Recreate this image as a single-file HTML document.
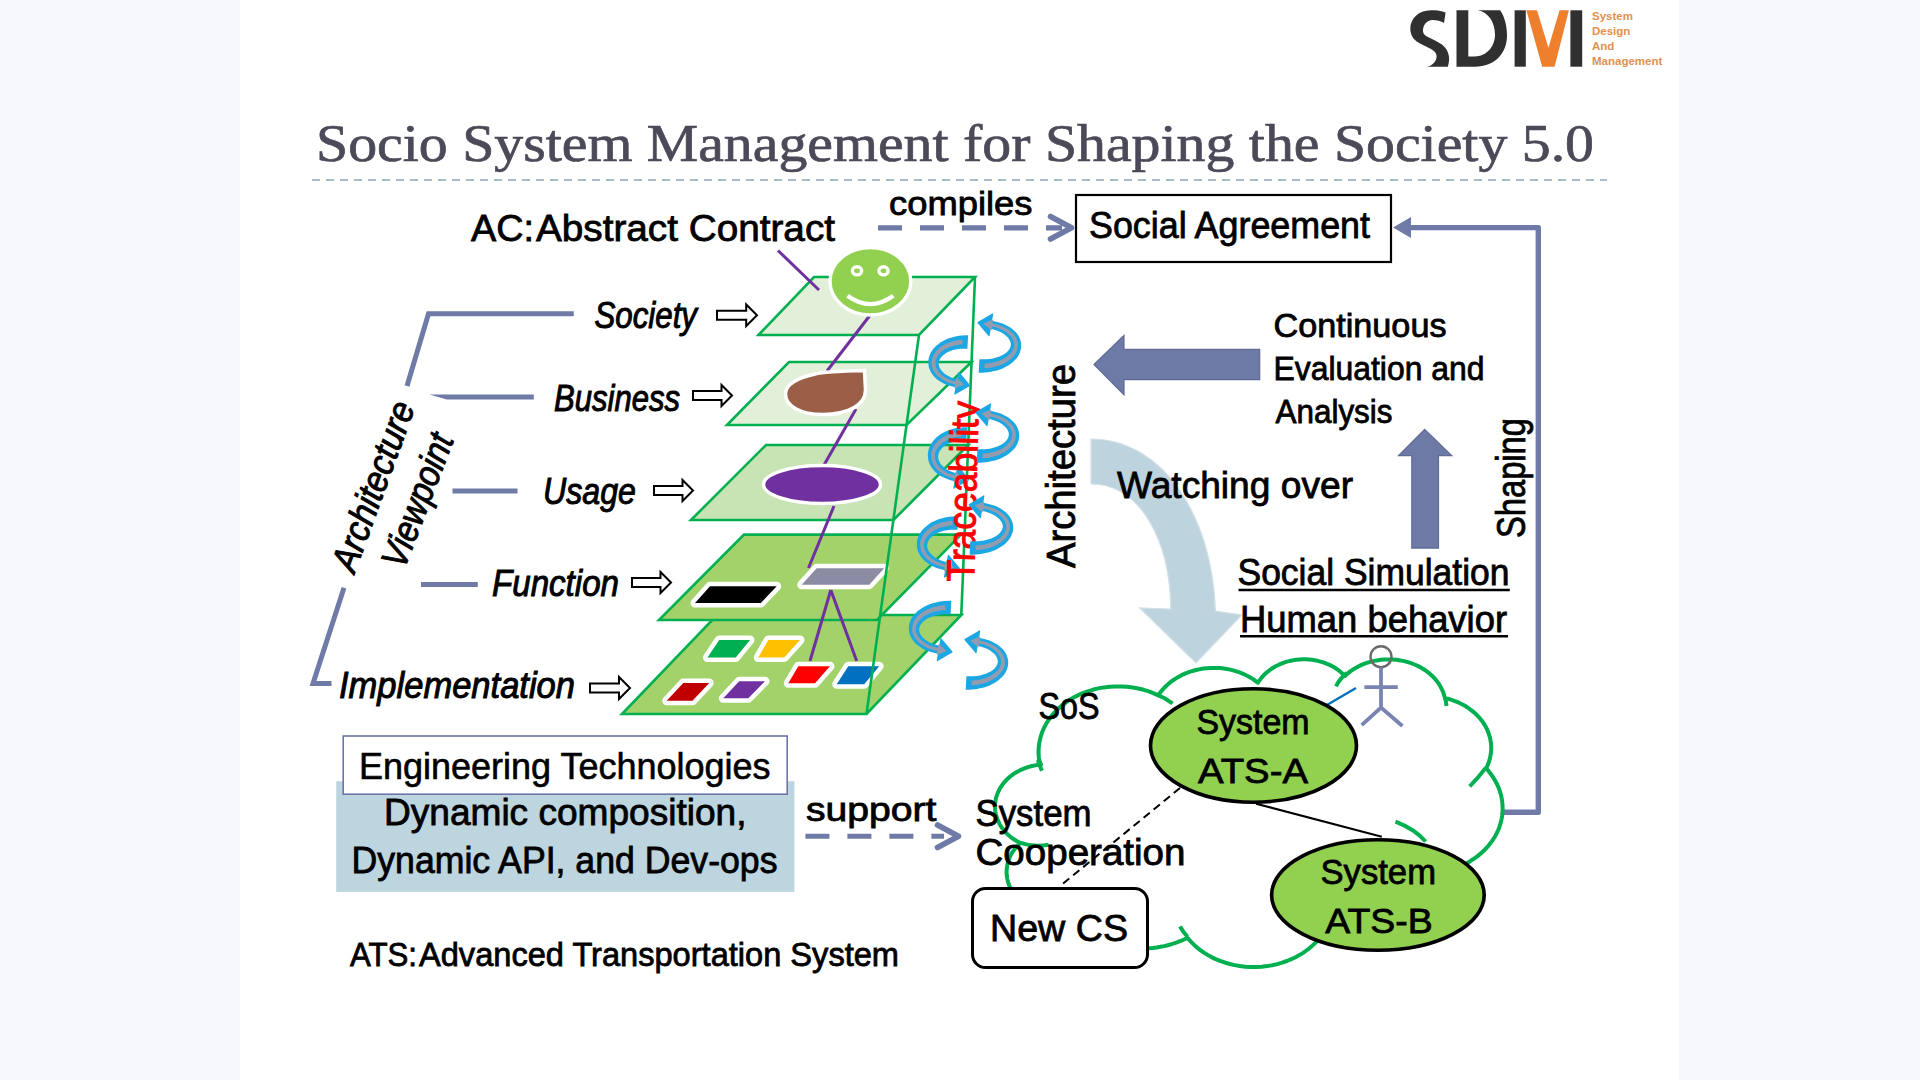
<!DOCTYPE html><html><head><meta charset="utf-8"><style>html,body{margin:0;padding:0;width:1920px;height:1080px;overflow:hidden;background:#f6f8fb}svg{position:absolute;left:0;top:0;display:block}text{font-family:"Liberation Sans",sans-serif}</style></head><body>
<svg width="1920" height="1080" viewBox="0 0 1920 1080">
<rect x="0" y="0" width="1920" height="1080" fill="#f6f8fb"/>
<rect x="240" y="0" width="1439" height="1080" fill="#ffffff"/>
<g id="logo">
<path d="M1445.6,12.4 C1440,10.5 1435,10.3 1431,10.3 C1418,10.5 1410.3,19 1410.3,28.6 C1410.3,36 1414,41 1422,44.5 L1430,48.5 C1435,51 1437,54 1436.6,57 C1436,62 1432,65.5 1427.3,66.7 L1447.8,66.7 C1449,63 1449.3,59 1449,56.5 C1448,50 1444.7,45.3 1436,41 L1428,37 C1424,35 1423,33 1423,30.5 C1423,25 1427,19.9 1432.3,19.9 C1437,19.9 1441,21 1444,23 Z" fill="#303030"/>
<path d="M1456.5,10.3 L1468.3,10.3 L1468.3,56.5 L1475,56.5 C1486,56.5 1495,47 1495,34.8 C1495,22 1488,12 1477.9,10.3 L1500,10.3 C1504.5,16 1507,26 1507,35.5 C1507,53 1495,66.7 1475,66.7 L1456.5,66.7 Z" fill="#303030"/>
<rect x="1514.6" y="10.3" width="11.2" height="56.4" fill="#303030"/>
<rect x="1570.4" y="10.3" width="11.8" height="56.4" fill="#303030"/>
<polygon points="1526.4,10.3 1537,10.3 1548.4,47.8 1559.6,10.3 1568.9,10.3 1554.6,66.7 1542.2,66.7" fill="#ee7f2d"/>
<text x="1592" y="20" font-size="11.5" fill="#e0924f" font-weight="bold" >System</text>
<text x="1592" y="35" font-size="11.5" fill="#e0924f" font-weight="bold" >Design</text>
<text x="1592" y="50" font-size="11.5" fill="#e0924f" font-weight="bold" >And</text>
<text x="1592" y="65" font-size="11.5" fill="#e0924f" font-weight="bold" >Management</text>
</g>
<text x="316" y="161" font-size="52.5" fill="#4a4a58" stroke="#4a4a58" stroke-width="0.7" style='font-family:"Liberation Serif", serif' textLength="1278" lengthAdjust="spacingAndGlyphs" >Socio System Management for Shaping the Society 5.0</text>
<line x1="312" y1="180" x2="1607" y2="180" stroke="#a9bdc9" stroke-width="2" stroke-dasharray="8,6"/>
<g id="stack">
<polygon points="717.0,615.0 961.3,615.0 866.5,714.0 622.0,714.0" fill="#a3d26b" stroke="#00b050" stroke-width="2.6" stroke-linejoin="miter"/>
<polygon points="744.0,534.6 961.0,534.6 877.0,620.0 659.0,620.0" fill="#a3d26b" stroke="#00b050" stroke-width="2.6" stroke-linejoin="miter"/>
<polygon points="766.0,445.0 968.2,445.0 893.4,520.0 691.0,520.0" fill="#c9e4b4" stroke="#00b050" stroke-width="2.6" stroke-linejoin="miter"/>
<polygon points="789.0,362.0 971.5,362.0 906.5,425.0 727.0,425.0" fill="#e2f0d9" stroke="#00b050" stroke-width="2.6" stroke-linejoin="miter"/>
<polygon points="814.0,277.0 975.0,277.0 919.0,335.0 758.5,335.0" fill="#e2f0d9" stroke="#00b050" stroke-width="2.6" stroke-linejoin="miter"/>
</g>
<g id="shapes">
<line x1="778" y1="250.5" x2="819" y2="290" stroke="#7030a0" stroke-width="3" />
<line x1="871" y1="314" x2="827" y2="371" stroke="#7030a0" stroke-width="3" />
<line x1="856" y1="409" x2="824" y2="465" stroke="#7030a0" stroke-width="3" />
<line x1="834" y1="506" x2="808.5" y2="568" stroke="#7030a0" stroke-width="3" />
<line x1="830.8" y1="590" x2="810" y2="661" stroke="#7030a0" stroke-width="3" />
<line x1="830.8" y1="590" x2="856.7" y2="661" stroke="#7030a0" stroke-width="3" />
<ellipse cx="870.4" cy="281.3" rx="40.4" ry="33.7" fill="#92d050" stroke="#ffffff" stroke-width="3.4"/>
<ellipse cx="857" cy="270.8" rx="4.6" ry="4.1" fill="#92d050" stroke="#ffffff" stroke-width="3.4"/>
<ellipse cx="883.5" cy="270.8" rx="4.6" ry="4.1" fill="#92d050" stroke="#ffffff" stroke-width="3.4"/>
<path d="M847.5,295.8 Q870.4,312.5 893.3,295.8" fill="none" stroke="#ffffff" stroke-width="4.3" stroke-linecap="butt"/>
<path d="M864.5,370.5 C845,371 825,371.5 815,374 C797,378 785.5,385 785.5,394 C785.5,406 800,414.5 823,414.5 C848,414.5 865.5,405 865.5,390 Z" fill="#9b5f47" stroke="#ffffff" stroke-width="3.5"/>
<ellipse cx="822" cy="484.5" rx="58.5" ry="19" fill="#7030a0" stroke="#ffffff" stroke-width="3.5"/>
<polygon points="710.0,586.3 776.7,586.3 760.8,603.0 695.0,603.0" fill="#000000" stroke="#ffffff" stroke-width="9.0" stroke-linejoin="round" paint-order="stroke"/>
<polygon points="816.7,568.3 884.2,568.3 869.2,584.7 801.7,584.7" fill="#8b8ba3" stroke="#ffffff" stroke-width="9.0" stroke-linejoin="round" paint-order="stroke"/>
<polygon points="719.2,640.0 750.0,640.0 735.8,657.5 707.5,657.5" fill="#00b050" stroke="#ffffff" stroke-width="9.0" stroke-linejoin="round" paint-order="stroke"/>
<polygon points="768.3,640.0 800.0,640.0 784.2,657.5 758.3,657.5" fill="#ffc000" stroke="#ffffff" stroke-width="9.0" stroke-linejoin="round" paint-order="stroke"/>
<polygon points="683.3,683.0 709.2,683.0 692.5,700.8 666.7,700.8" fill="#c00000" stroke="#ffffff" stroke-width="9.0" stroke-linejoin="round" paint-order="stroke"/>
<polygon points="739.2,681.3 765.0,681.3 748.3,698.3 723.3,698.3" fill="#7030a0" stroke="#ffffff" stroke-width="9.0" stroke-linejoin="round" paint-order="stroke"/>
<polygon points="798.3,666.2 830.0,666.2 815.0,683.3 788.3,683.3" fill="#ff0000" stroke="#ffffff" stroke-width="9.0" stroke-linejoin="round" paint-order="stroke"/>
<polygon points="848.3,666.2 879.2,666.2 864.2,684.2 836.7,684.2" fill="#0070c0" stroke="#ffffff" stroke-width="9.0" stroke-linejoin="round" paint-order="stroke"/>
<line x1="975" y1="277" x2="961.3" y2="615" stroke="#00b050" stroke-width="2.6" />
<line x1="918.9915" y1="335" x2="866.5" y2="714" stroke="#00b050" stroke-width="2.6" />
</g>
<g id="trace">
<polygon points="968.1,335.3 965.2,335.3 962.2,335.5 959.3,335.8 956.4,336.3 953.6,336.9 950.8,337.7 948.1,338.6 945.5,339.7 943.1,340.9 940.7,342.3 938.6,343.9 936.5,345.5 934.7,347.3 933.0,349.2 931.6,351.3 930.4,353.4 929.5,355.7 928.8,358.0 928.4,360.3 928.3,362.7 928.5,365.1 928.9,367.4 929.7,369.6 930.7,371.8 931.9,373.8 933.4,375.7 935.0,377.5 936.9,379.2 938.9,380.7 941.0,382.0 943.3,383.3 945.7,384.4 948.2,385.3 950.8,386.1 953.4,386.7 956.1,387.2 957.6,379.3 955.3,378.8 953.2,378.1 951.1,377.4 949.2,376.5 947.4,375.5 945.8,374.5 944.3,373.4 943.0,372.2 941.8,371.0 940.9,369.8 940.1,368.6 939.5,367.4 939.1,366.2 938.8,365.1 938.7,364.0 938.7,362.9 938.9,361.8 939.2,360.7 939.6,359.7 940.2,358.6 940.9,357.5 941.8,356.5 942.8,355.4 944.1,354.4 945.4,353.5 946.9,352.6 948.6,351.7 950.4,351.0 952.3,350.3 954.3,349.8 956.3,349.3 958.5,349.0 960.7,348.8 962.9,348.7 965.1,348.7 967.4,348.8" fill="#1ba7e4" stroke="none" stroke-width="0" />
<polygon points="969.6,385.6 954.9,394.1 958.8,372.5" fill="#1ba7e4" stroke="#1ba7e4" stroke-width="1.2" stroke-linejoin="round"/>
<polygon points="962.4,339.7 959.7,339.9 957.1,340.3 954.4,340.9 951.9,341.5 949.4,342.4 947.1,343.3 944.8,344.4 942.7,345.6 940.7,346.9 938.9,348.4 937.3,349.9 935.8,351.6 934.6,353.3 933.5,355.1 932.7,356.9 932.1,358.9 931.7,360.8 931.6,362.8 931.7,364.7 932.1,366.7 932.7,368.6 933.5,370.4 934.5,372.2 935.8,373.9 937.2,375.4 938.8,377.0 940.6,378.3 942.5,379.6 944.6,380.8 946.8,381.8 949.1,382.8 951.5,383.5 954.0,384.2 956.6,384.7 957.1,381.9 954.7,381.3 952.4,380.7 950.2,379.9 948.1,379.0 946.1,378.0 944.2,376.9 942.5,375.7 941.0,374.5 939.7,373.1 938.5,371.7 937.5,370.3 936.7,368.8 936.1,367.3 935.7,365.8 935.4,364.3 935.4,362.8 935.5,361.3 935.8,359.8 936.4,358.4 937.1,356.9 937.9,355.5 939.0,354.2 940.2,352.8 941.6,351.6 943.2,350.4 944.9,349.3 946.8,348.3 948.8,347.4 950.9,346.6 953.1,345.9 955.4,345.3 957.8,344.9 960.2,344.6 962.7,344.4" fill="#939cae" stroke="none" stroke-width="0" />
<polygon points="964.2,384.6 954.4,388.4 956.3,377.6" fill="#939cae" stroke="none" stroke-width="0" />
<polygon points="967.1,427.3 964.2,427.3 961.2,427.5 958.3,427.8 955.4,428.3 952.6,429.0 949.9,429.8 947.2,430.8 944.7,431.9 942.2,433.2 939.9,434.7 937.8,436.3 935.8,438.0 934.0,439.9 932.4,441.9 931.0,444.0 929.8,446.2 928.9,448.5 928.3,450.9 927.9,453.3 927.8,455.7 928.0,458.1 928.4,460.5 929.1,462.8 930.1,465.0 931.3,467.1 932.7,469.1 934.4,471.0 936.2,472.7 938.1,474.3 940.2,475.7 942.5,477.0 944.9,478.1 947.3,479.1 949.9,480.0 952.5,480.7 955.2,481.2 956.7,473.3 954.5,472.8 952.4,472.1 950.4,471.3 948.6,470.4 946.8,469.4 945.2,468.3 943.8,467.1 942.5,465.9 941.3,464.7 940.4,463.4 939.6,462.1 939.0,460.8 938.6,459.6 938.3,458.3 938.2,457.1 938.2,455.9 938.4,454.7 938.7,453.5 939.1,452.3 939.7,451.1 940.5,450.0 941.3,448.9 942.4,447.8 943.6,446.7 944.9,445.7 946.4,444.7 948.0,443.9 949.8,443.1 951.6,442.4 953.6,441.8 955.6,441.3 957.7,441.0 959.8,440.8 962.0,440.7 964.1,440.7 966.3,440.8" fill="#1ba7e4" stroke="none" stroke-width="0" />
<polygon points="968.7,479.7 953.9,488.1 958.0,466.4" fill="#1ba7e4" stroke="#1ba7e4" stroke-width="1.2" stroke-linejoin="round"/>
<polygon points="961.5,431.7 958.8,431.9 956.2,432.4 953.6,432.9 951.1,433.6 948.6,434.5 946.3,435.5 944.1,436.6 942.0,437.9 940.1,439.3 938.3,440.8 936.7,442.4 935.2,444.1 934.0,445.9 933.0,447.8 932.2,449.7 931.6,451.7 931.2,453.7 931.1,455.8 931.2,457.8 931.6,459.8 932.2,461.8 933.0,463.7 934.0,465.5 935.2,467.3 936.6,468.9 938.2,470.5 939.9,472.0 941.8,473.3 943.9,474.6 946.0,475.7 948.3,476.6 950.7,477.5 953.2,478.1 955.7,478.7 956.2,475.8 953.9,475.3 951.6,474.6 949.5,473.8 947.4,472.9 945.4,471.8 943.6,470.7 942.0,469.4 940.4,468.1 939.1,466.7 937.9,465.2 937.0,463.7 936.2,462.2 935.6,460.6 935.2,459.0 934.9,457.4 934.9,455.8 935.0,454.2 935.3,452.6 935.9,451.1 936.5,449.6 937.4,448.1 938.5,446.6 939.7,445.2 941.1,443.9 942.6,442.7 944.3,441.5 946.2,440.5 948.1,439.5 950.2,438.7 952.4,438.0 954.6,437.4 957.0,436.9 959.3,436.6 961.7,436.4" fill="#939cae" stroke="none" stroke-width="0" />
<polygon points="963.3,478.7 953.5,482.4 955.5,471.6" fill="#939cae" stroke="none" stroke-width="0" />
<polygon points="958.3,516.3 955.2,516.3 952.1,516.5 949.0,516.8 946.0,517.3 943.1,517.9 940.2,518.8 937.4,519.7 934.7,520.9 932.1,522.1 929.7,523.6 927.5,525.2 925.4,526.9 923.4,528.8 921.7,530.7 920.2,532.9 919.0,535.1 918.0,537.4 917.3,539.8 916.9,542.2 916.8,544.7 917.0,547.2 917.5,549.6 918.2,551.9 919.3,554.1 920.6,556.2 922.1,558.2 923.8,560.1 925.7,561.8 927.8,563.3 930.0,564.8 932.3,566.1 934.8,567.2 937.4,568.2 940.1,569.0 942.9,569.7 945.8,570.2 947.2,562.3 944.8,561.7 942.5,561.1 940.4,560.2 938.4,559.3 936.5,558.3 934.7,557.2 933.2,556.1 931.8,554.8 930.6,553.6 929.5,552.3 928.7,551.0 928.1,549.7 927.6,548.5 927.3,547.2 927.2,546.0 927.2,544.9 927.4,543.7 927.7,542.6 928.2,541.4 928.8,540.3 929.5,539.1 930.5,538.0 931.6,536.9 932.9,535.8 934.3,534.8 935.9,533.8 937.7,532.9 939.6,532.1 941.6,531.4 943.7,530.8 945.9,530.4 948.1,530.0 950.4,529.8 952.8,529.7 955.1,529.7 957.5,529.8" fill="#1ba7e4" stroke="none" stroke-width="0" />
<polygon points="959.3,568.5 944.5,577.1 948.4,555.4" fill="#1ba7e4" stroke="#1ba7e4" stroke-width="1.2" stroke-linejoin="round"/>
<polygon points="952.3,520.7 949.5,520.9 946.7,521.4 944.0,521.9 941.3,522.6 938.7,523.5 936.3,524.5 933.9,525.6 931.7,526.9 929.7,528.2 927.8,529.7 926.0,531.4 924.5,533.1 923.2,534.9 922.1,536.7 921.3,538.7 920.6,540.7 920.3,542.7 920.1,544.8 920.2,546.8 920.6,548.8 921.2,550.8 922.1,552.7 923.2,554.6 924.5,556.3 925.9,558.0 927.6,559.6 929.5,561.0 931.5,562.4 933.7,563.6 936.0,564.7 938.4,565.6 940.9,566.5 943.5,567.1 946.2,567.7 946.7,564.8 944.2,564.3 941.8,563.6 939.4,562.8 937.2,561.8 935.1,560.8 933.2,559.6 931.4,558.4 929.8,557.1 928.4,555.7 927.1,554.2 926.1,552.7 925.3,551.1 924.6,549.6 924.2,548.0 923.9,546.4 923.9,544.8 924.0,543.2 924.4,541.7 924.9,540.1 925.6,538.6 926.6,537.1 927.7,535.7 929.0,534.3 930.5,533.0 932.1,531.7 933.9,530.6 935.9,529.5 938.0,528.5 940.2,527.7 942.6,527.0 945.0,526.4 947.5,525.9 950.0,525.6 952.6,525.4" fill="#939cae" stroke="none" stroke-width="0" />
<polygon points="953.8,567.6 944.0,571.4 945.9,560.6" fill="#939cae" stroke="none" stroke-width="0" />
<polygon points="951.3,600.8 948.2,600.8 945.0,601.0 941.9,601.3 938.8,601.8 935.8,602.4 932.9,603.2 930.0,604.1 927.3,605.2 924.7,606.5 922.2,607.9 919.8,609.4 917.7,611.1 915.7,612.9 914.0,614.9 912.4,617.0 911.1,619.1 910.1,621.4 909.3,623.8 908.9,626.3 908.8,628.7 909.0,631.2 909.5,633.5 910.3,635.8 911.4,638.0 912.7,640.1 914.3,642.1 916.0,643.9 918.0,645.5 920.1,647.1 922.4,648.5 924.8,649.7 927.4,650.8 930.0,651.8 932.8,652.6 935.6,653.2 938.5,653.7 939.9,645.8 937.4,645.3 935.1,644.6 932.8,643.8 930.7,642.9 928.8,641.9 927.0,640.8 925.3,639.7 923.9,638.5 922.6,637.2 921.6,636.0 920.7,634.7 920.1,633.5 919.6,632.3 919.3,631.1 919.2,630.0 919.2,628.9 919.4,627.8 919.7,626.7 920.2,625.6 920.8,624.5 921.6,623.4 922.5,622.3 923.7,621.3 925.0,620.2 926.5,619.2 928.1,618.3 929.9,617.4 931.9,616.6 934.0,615.9 936.2,615.3 938.5,614.9 940.8,614.5 943.2,614.3 945.7,614.2 948.1,614.2 950.6,614.3" fill="#1ba7e4" stroke="none" stroke-width="0" />
<polygon points="952.0,651.9 937.4,660.6 941.0,638.9" fill="#1ba7e4" stroke="#1ba7e4" stroke-width="1.2" stroke-linejoin="round"/>
<polygon points="945.2,605.2 942.3,605.4 939.5,605.8 936.7,606.4 933.9,607.1 931.3,607.9 928.8,608.9 926.3,610.0 924.1,611.2 922.0,612.6 920.0,614.0 918.3,615.6 916.7,617.3 915.3,619.0 914.2,620.9 913.3,622.8 912.7,624.7 912.3,626.7 912.1,628.8 912.2,630.8 912.6,632.8 913.3,634.7 914.2,636.6 915.3,638.4 916.6,640.1 918.1,641.7 919.9,643.3 921.8,644.7 923.8,646.0 926.1,647.2 928.4,648.3 930.9,649.2 933.5,650.0 936.2,650.7 939.0,651.2 939.4,648.3 936.9,647.8 934.3,647.1 931.9,646.3 929.6,645.4 927.5,644.4 925.5,643.3 923.7,642.0 922.0,640.7 920.5,639.4 919.2,637.9 918.2,636.4 917.3,634.9 916.6,633.4 916.2,631.9 915.9,630.4 915.9,628.8 916.0,627.3 916.4,625.8 916.9,624.3 917.7,622.8 918.6,621.4 919.8,620.0 921.1,618.6 922.6,617.3 924.3,616.1 926.2,614.9 928.3,613.9 930.4,613.0 932.7,612.1 935.1,611.4 937.6,610.9 940.2,610.4 942.8,610.1 945.5,609.9" fill="#939cae" stroke="none" stroke-width="0" />
<polygon points="946.6,651.0 936.8,654.9 938.6,644.1" fill="#939cae" stroke="none" stroke-width="0" />
<text x="974" y="582" font-size="39" fill="#ff0000" stroke="#ff0000" stroke-width="1.0" textLength="180.5" lengthAdjust="spacingAndGlyphs" transform="rotate(-88.5 974 582)">Traceability</text>
<polygon points="978.7,372.7 981.8,372.7 985.0,372.5 988.1,372.2 991.1,371.8 994.1,371.1 997.1,370.4 999.9,369.4 1002.7,368.4 1005.3,367.1 1007.8,365.8 1010.1,364.3 1012.3,362.6 1014.2,360.8 1016.0,358.9 1017.6,356.9 1018.9,354.7 1019.9,352.5 1020.7,350.1 1021.1,347.7 1021.2,345.3 1021.0,342.9 1020.5,340.5 1019.7,338.2 1018.6,336.1 1017.3,334.0 1015.7,332.1 1013.9,330.4 1012.0,328.7 1009.9,327.2 1007.6,325.9 1005.2,324.7 1002.6,323.6 999.9,322.7 997.2,321.9 994.4,321.3 991.5,320.8 990.1,328.7 992.6,329.2 994.9,329.9 997.2,330.7 999.3,331.5 1001.3,332.5 1003.1,333.6 1004.7,334.7 1006.2,335.9 1007.4,337.1 1008.5,338.3 1009.3,339.5 1009.9,340.7 1010.4,341.9 1010.7,343.0 1010.8,344.1 1010.8,345.1 1010.6,346.1 1010.3,347.2 1009.9,348.2 1009.3,349.2 1008.5,350.3 1007.5,351.4 1006.4,352.4 1005.1,353.4 1003.6,354.4 1001.9,355.3 1000.1,356.2 998.1,357.0 996.0,357.6 993.8,358.2 991.6,358.7 989.2,359.0 986.8,359.2 984.3,359.3 981.9,359.3 979.4,359.2" fill="#1ba7e4" stroke="none" stroke-width="0" />
<polygon points="978.0,322.6 992.6,313.9 989.0,335.6" fill="#1ba7e4" stroke="#1ba7e4" stroke-width="1.2" stroke-linejoin="round"/>
<polygon points="984.7,368.3 987.6,368.1 990.5,367.7 993.3,367.1 996.0,366.5 998.7,365.7 1001.2,364.7 1003.6,363.6 1005.9,362.4 1008.0,361.1 1010.0,359.7 1011.7,358.1 1013.3,356.5 1014.7,354.8 1015.8,353.0 1016.7,351.1 1017.3,349.2 1017.7,347.2 1017.9,345.2 1017.7,343.3 1017.4,341.3 1016.7,339.4 1015.8,337.6 1014.7,335.8 1013.4,334.1 1011.8,332.5 1010.1,331.0 1008.2,329.6 1006.1,328.3 1003.9,327.2 1001.6,326.1 999.1,325.2 996.5,324.4 993.8,323.8 991.0,323.3 990.6,326.1 993.2,326.7 995.7,327.3 998.1,328.1 1000.4,329.0 1002.5,330.0 1004.5,331.1 1006.4,332.3 1008.0,333.6 1009.5,334.9 1010.8,336.3 1011.8,337.8 1012.7,339.2 1013.4,340.7 1013.8,342.2 1014.1,343.7 1014.1,345.2 1014.0,346.6 1013.6,348.1 1013.1,349.6 1012.3,351.0 1011.4,352.4 1010.2,353.8 1008.9,355.1 1007.4,356.4 1005.7,357.6 1003.8,358.7 1001.8,359.7 999.6,360.6 997.3,361.4 994.9,362.1 992.4,362.7 989.8,363.1 987.2,363.4 984.5,363.6" fill="#939cae" stroke="none" stroke-width="0" />
<polygon points="983.4,323.5 993.2,319.5 991.4,330.4" fill="#939cae" stroke="none" stroke-width="0" />
<polygon points="976.7,462.7 979.8,462.7 983.0,462.5 986.1,462.2 989.1,461.8 992.1,461.1 995.1,460.4 997.9,459.4 1000.7,458.4 1003.3,457.1 1005.8,455.8 1008.1,454.3 1010.3,452.6 1012.2,450.8 1014.0,448.9 1015.6,446.9 1016.9,444.7 1017.9,442.5 1018.7,440.1 1019.1,437.7 1019.2,435.3 1019.0,432.9 1018.5,430.5 1017.7,428.2 1016.6,426.1 1015.3,424.0 1013.7,422.1 1011.9,420.4 1010.0,418.7 1007.9,417.2 1005.6,415.9 1003.2,414.7 1000.6,413.6 997.9,412.7 995.2,411.9 992.4,411.3 989.5,410.8 988.1,418.7 990.6,419.2 992.9,419.9 995.2,420.7 997.3,421.5 999.3,422.5 1001.1,423.6 1002.7,424.7 1004.2,425.9 1005.4,427.1 1006.5,428.3 1007.3,429.5 1007.9,430.7 1008.4,431.9 1008.7,433.0 1008.8,434.1 1008.8,435.1 1008.6,436.1 1008.3,437.2 1007.9,438.2 1007.3,439.2 1006.5,440.3 1005.5,441.4 1004.4,442.4 1003.1,443.4 1001.6,444.4 999.9,445.3 998.1,446.2 996.1,447.0 994.0,447.6 991.8,448.2 989.6,448.7 987.2,449.0 984.8,449.2 982.3,449.3 979.9,449.3 977.4,449.2" fill="#1ba7e4" stroke="none" stroke-width="0" />
<polygon points="976.0,412.6 990.6,403.9 987.0,425.6" fill="#1ba7e4" stroke="#1ba7e4" stroke-width="1.2" stroke-linejoin="round"/>
<polygon points="982.7,458.3 985.6,458.1 988.5,457.7 991.3,457.1 994.0,456.5 996.7,455.7 999.2,454.7 1001.6,453.6 1003.9,452.4 1006.0,451.1 1008.0,449.7 1009.7,448.1 1011.3,446.5 1012.7,444.8 1013.8,443.0 1014.7,441.1 1015.3,439.2 1015.7,437.2 1015.9,435.2 1015.7,433.3 1015.4,431.3 1014.7,429.4 1013.8,427.6 1012.7,425.8 1011.4,424.1 1009.8,422.5 1008.1,421.0 1006.2,419.6 1004.1,418.3 1001.9,417.2 999.6,416.1 997.1,415.2 994.5,414.4 991.8,413.8 989.0,413.3 988.6,416.1 991.2,416.7 993.7,417.3 996.1,418.1 998.4,419.0 1000.5,420.0 1002.5,421.1 1004.4,422.3 1006.0,423.6 1007.5,424.9 1008.8,426.3 1009.8,427.8 1010.7,429.2 1011.4,430.7 1011.8,432.2 1012.1,433.7 1012.1,435.2 1012.0,436.6 1011.6,438.1 1011.1,439.6 1010.3,441.0 1009.4,442.4 1008.2,443.8 1006.9,445.1 1005.4,446.4 1003.7,447.6 1001.8,448.7 999.8,449.7 997.6,450.6 995.3,451.4 992.9,452.1 990.4,452.7 987.8,453.1 985.2,453.4 982.5,453.6" fill="#939cae" stroke="none" stroke-width="0" />
<polygon points="981.4,413.5 991.2,409.5 989.4,420.4" fill="#939cae" stroke="none" stroke-width="0" />
<polygon points="969.6,554.7 972.8,554.7 976.0,554.5 979.2,554.2 982.3,553.8 985.4,553.1 988.4,552.4 991.4,551.5 994.2,550.4 996.8,549.2 999.4,547.8 1001.8,546.3 1004.0,544.7 1006.0,542.9 1007.8,541.0 1009.4,539.0 1010.8,536.8 1011.8,534.5 1012.6,532.2 1013.1,529.7 1013.2,527.3 1013.0,524.9 1012.5,522.5 1011.6,520.2 1010.5,518.0 1009.2,516.0 1007.5,514.1 1005.7,512.3 1003.7,510.7 1001.6,509.2 999.2,507.8 996.7,506.6 994.1,505.6 991.4,504.7 988.6,503.9 985.7,503.2 982.7,502.8 981.4,510.7 984.0,511.2 986.4,511.9 988.7,512.7 990.9,513.6 992.9,514.5 994.8,515.6 996.5,516.7 998.0,517.9 999.3,519.1 1000.4,520.4 1001.3,521.6 1001.9,522.8 1002.4,523.9 1002.7,525.0 1002.8,526.1 1002.8,527.1 1002.6,528.1 1002.3,529.1 1001.9,530.1 1001.2,531.2 1000.4,532.2 999.5,533.3 998.3,534.4 996.9,535.4 995.4,536.4 993.7,537.3 991.8,538.2 989.7,538.9 987.6,539.6 985.3,540.2 982.9,540.7 980.5,541.0 977.9,541.2 975.4,541.3 972.8,541.3 970.3,541.2" fill="#1ba7e4" stroke="none" stroke-width="0" />
<polygon points="969.2,504.7 983.8,495.9 980.3,517.6" fill="#1ba7e4" stroke="#1ba7e4" stroke-width="1.2" stroke-linejoin="round"/>
<polygon points="975.8,550.3 978.8,550.1 981.7,549.7 984.6,549.1 987.4,548.5 990.1,547.7 992.7,546.7 995.2,545.6 997.6,544.4 999.7,543.1 1001.7,541.7 1003.5,540.2 1005.1,538.5 1006.5,536.8 1007.7,535.0 1008.6,533.1 1009.3,531.2 1009.7,529.2 1009.9,527.2 1009.7,525.3 1009.3,523.3 1008.7,521.4 1007.8,519.5 1006.6,517.8 1005.3,516.1 1003.7,514.5 1001.9,513.0 999.9,511.6 997.8,510.3 995.5,509.2 993.1,508.1 990.5,507.2 987.9,506.4 985.1,505.8 982.3,505.3 981.8,508.1 984.5,508.7 987.1,509.3 989.6,510.1 991.9,511.0 994.2,512.0 996.2,513.1 998.1,514.3 999.8,515.6 1001.4,516.9 1002.7,518.3 1003.8,519.8 1004.7,521.3 1005.4,522.7 1005.8,524.2 1006.1,525.7 1006.1,527.2 1006.0,528.6 1005.6,530.1 1005.1,531.5 1004.3,533.0 1003.3,534.4 1002.1,535.8 1000.8,537.1 999.2,538.4 997.4,539.5 995.5,540.7 993.4,541.7 991.2,542.6 988.8,543.4 986.3,544.1 983.7,544.7 981.1,545.1 978.3,545.4 975.6,545.6" fill="#939cae" stroke="none" stroke-width="0" />
<polygon points="974.7,505.5 984.4,501.5 982.7,512.4" fill="#939cae" stroke="none" stroke-width="0" />
<polygon points="965.7,689.7 968.8,689.7 972.0,689.5 975.1,689.2 978.1,688.8 981.1,688.1 984.1,687.4 986.9,686.4 989.7,685.4 992.3,684.1 994.8,682.8 997.1,681.3 999.3,679.6 1001.2,677.8 1003.0,675.9 1004.6,673.9 1005.9,671.7 1006.9,669.5 1007.7,667.1 1008.1,664.7 1008.2,662.3 1008.0,659.9 1007.5,657.5 1006.7,655.2 1005.6,653.1 1004.3,651.0 1002.7,649.1 1000.9,647.4 999.0,645.7 996.9,644.2 994.6,642.9 992.2,641.7 989.6,640.6 986.9,639.7 984.2,638.9 981.4,638.3 978.5,637.8 977.1,645.7 979.6,646.2 981.9,646.9 984.2,647.7 986.3,648.5 988.3,649.5 990.1,650.6 991.7,651.7 993.2,652.9 994.4,654.1 995.5,655.3 996.3,656.5 996.9,657.7 997.4,658.9 997.7,660.0 997.8,661.1 997.8,662.1 997.6,663.1 997.3,664.2 996.9,665.2 996.3,666.2 995.5,667.3 994.5,668.4 993.4,669.4 992.1,670.4 990.6,671.4 988.9,672.3 987.1,673.2 985.1,674.0 983.0,674.6 980.8,675.2 978.6,675.7 976.2,676.0 973.8,676.2 971.3,676.3 968.9,676.3 966.4,676.2" fill="#1ba7e4" stroke="none" stroke-width="0" />
<polygon points="965.0,639.6 979.6,630.9 976.0,652.6" fill="#1ba7e4" stroke="#1ba7e4" stroke-width="1.2" stroke-linejoin="round"/>
<polygon points="971.7,685.3 974.6,685.1 977.5,684.7 980.3,684.1 983.0,683.5 985.7,682.7 988.2,681.7 990.6,680.6 992.9,679.4 995.0,678.1 997.0,676.7 998.7,675.1 1000.3,673.5 1001.7,671.8 1002.8,670.0 1003.7,668.1 1004.3,666.2 1004.7,664.2 1004.9,662.2 1004.7,660.3 1004.4,658.3 1003.7,656.4 1002.8,654.6 1001.7,652.8 1000.4,651.1 998.8,649.5 997.1,648.0 995.2,646.6 993.1,645.3 990.9,644.2 988.6,643.1 986.1,642.2 983.5,641.4 980.8,640.8 978.0,640.3 977.6,643.1 980.2,643.7 982.7,644.3 985.1,645.1 987.4,646.0 989.5,647.0 991.5,648.1 993.4,649.3 995.0,650.6 996.5,651.9 997.8,653.3 998.8,654.8 999.7,656.2 1000.4,657.7 1000.8,659.2 1001.1,660.7 1001.1,662.2 1001.0,663.6 1000.6,665.1 1000.1,666.6 999.3,668.0 998.4,669.4 997.2,670.8 995.9,672.1 994.4,673.4 992.7,674.6 990.8,675.7 988.8,676.7 986.6,677.6 984.3,678.4 981.9,679.1 979.4,679.7 976.8,680.1 974.2,680.4 971.5,680.6" fill="#939cae" stroke="none" stroke-width="0" />
<polygon points="970.4,640.5 980.2,636.5 978.4,647.4" fill="#939cae" stroke="none" stroke-width="0" />
</g>
<g id="bracket">
<path d="M573.75,313.75 L428.5,313.75 L407,386" fill="none" stroke="#6f7aa6" stroke-width="5" stroke-linejoin="miter"/>
<path d="M344,587.7 L313,683.6 L331.5,683.6" fill="none" stroke="#6f7aa6" stroke-width="5" stroke-linejoin="miter"/>
<polygon points="429.5,394.4 533.8,394.4 533.8,399.4 446.7,399.4" fill="#6f7aa6" stroke="none" stroke-width="0" />
<line x1="452.5" y1="491" x2="517.5" y2="491" stroke="#6f7aa6" stroke-width="5" />
<line x1="421" y1="584.5" x2="477.8" y2="584.5" stroke="#6f7aa6" stroke-width="5" />
</g>
<text x="594.5" y="327.5" font-size="37" fill="#000" stroke="#000" stroke-width="1.0" textLength="102.5" lengthAdjust="spacingAndGlyphs" font-style="italic" >Society</text>
<polygon points="717.0,310.7 746.2,310.7 746.2,304.5 757.0,315.2 746.2,326.0 746.2,319.8 717.0,319.8" fill="#ffffff" stroke="#000000" stroke-width="2.0" stroke-linejoin="miter"/>
<text x="554" y="411" font-size="37" fill="#000" stroke="#000" stroke-width="1.0" textLength="126" lengthAdjust="spacingAndGlyphs" font-style="italic" >Business</text>
<polygon points="693.0,391.1 721.5,391.1 721.5,385.0 732.0,395.5 721.5,406.0 721.5,399.9 693.0,399.9" fill="#ffffff" stroke="#000000" stroke-width="2.0" stroke-linejoin="miter"/>
<text x="543" y="504" font-size="37" fill="#000" stroke="#000" stroke-width="1.0" textLength="93" lengthAdjust="spacingAndGlyphs" font-style="italic" >Usage</text>
<polygon points="654.0,486.1 682.5,486.1 682.5,480.0 693.0,490.5 682.5,501.0 682.5,494.9 654.0,494.9" fill="#ffffff" stroke="#000000" stroke-width="2.0" stroke-linejoin="miter"/>
<text x="492" y="595.5" font-size="37" fill="#000" stroke="#000" stroke-width="1.0" textLength="127" lengthAdjust="spacingAndGlyphs" font-style="italic" >Function</text>
<polygon points="632.0,578.1 660.5,578.1 660.5,572.0 671.0,582.5 660.5,593.0 660.5,586.9 632.0,586.9" fill="#ffffff" stroke="#000000" stroke-width="2.0" stroke-linejoin="miter"/>
<text x="339" y="697.8" font-size="37" fill="#000" stroke="#000" stroke-width="1.0" textLength="236" lengthAdjust="spacingAndGlyphs" font-style="italic" >Implementation</text>
<polygon points="590.0,683.4 619.0,683.4 619.0,677.0 630.0,688.0 619.0,699.0 619.0,692.6 590.0,692.6" fill="#ffffff" stroke="#000000" stroke-width="2.0" stroke-linejoin="miter"/>
<text x="0" y="0" font-size="37" fill="#000" stroke="#000" stroke-width="1.0" textLength="178" lengthAdjust="spacingAndGlyphs" font-style="italic" transform="translate(373.7,486.3) rotate(-70)" text-anchor="middle" dy="12">Architecture</text>
<text x="0" y="0" font-size="37" fill="#000" stroke="#000" stroke-width="1.0" textLength="140" lengthAdjust="spacingAndGlyphs" font-style="italic" transform="translate(418,500.5) rotate(-69)" text-anchor="middle" dy="12">Viewpoint</text>
<text x="471" y="241.3" font-size="37" fill="#000" stroke="#000" stroke-width="0.8" textLength="63" lengthAdjust="spacingAndGlyphs" >AC:</text>
<text x="536" y="241.3" font-size="37" fill="#000" stroke="#000" stroke-width="0.8" textLength="299" lengthAdjust="spacingAndGlyphs" >Abstract Contract</text>
<text x="889" y="214.6" font-size="33" fill="#000" stroke="#000" stroke-width="0.8" textLength="143.5" lengthAdjust="spacingAndGlyphs" >compiles</text>
<line x1="878" y1="227.8" x2="1062" y2="227.8" stroke="#6f7aa6" stroke-width="5.2" stroke-dasharray="24,18"/>
<path d="M1050.5,216.5 L1071.5,227.8 L1050.5,239" fill="none" stroke="#6f7aa6" stroke-width="5.6" stroke-linecap="round" stroke-linejoin="round"/>
<rect x="1076" y="195" width="315" height="67" fill="#ffffff" stroke="#000000" stroke-width="2.2"/>
<text x="1089" y="238.3" font-size="37" fill="#000" stroke="#000" stroke-width="0.8" textLength="281" lengthAdjust="spacingAndGlyphs" >Social Agreement</text>
<path d="M1503,812.2 L1538.3,812.2 L1538.3,227.6 L1408,227.6" fill="none" stroke="#6f7aa6" stroke-width="5.4" stroke-linejoin="round"/>
<polygon points="1393.0,227.4 1411.0,217.0 1411.0,238.0" fill="#6f7aa6" stroke="none" stroke-width="0" />
<polygon points="1094.0,364.5 1124.0,335.5 1124.0,349.3 1259.7,349.3 1259.7,379.7 1124.0,379.7 1124.0,394.9" fill="#6e7aa6" stroke="#5f6a96" stroke-width="1.2" />
<polygon points="1424.7,429.4 1451.8,455.6 1438.5,455.6 1438.5,548.1 1411.8,548.1 1411.8,455.6 1398.5,455.6" fill="#6e7aa6" stroke="#5f6a96" stroke-width="1.2" />
<text x="1273.5" y="337" font-size="33" fill="#000" stroke="#000" stroke-width="0.8" textLength="173" lengthAdjust="spacingAndGlyphs" >Continuous</text>
<text x="1273.5" y="379.7" font-size="33" fill="#000" stroke="#000" stroke-width="0.8" textLength="211" lengthAdjust="spacingAndGlyphs" >Evaluation and</text>
<text x="1275.5" y="422.5" font-size="33" fill="#000" stroke="#000" stroke-width="0.8" textLength="117" lengthAdjust="spacingAndGlyphs" >Analysis</text>
<text x="1075" y="568" font-size="40" fill="#000" stroke="#000" stroke-width="0.8" textLength="204" lengthAdjust="spacingAndGlyphs" transform="rotate(-90 1075 568)">Architecture</text>
<text x="1525.2" y="538" font-size="40" fill="#000" stroke="#000" stroke-width="0.8" textLength="120" lengthAdjust="spacingAndGlyphs" transform="rotate(-90 1525.2 538)">Shaping</text>
<path d="M1091,439 C1165,439 1213,520 1215.4,611 L1241.9,615 L1196,663 L1139.5,607.8 L1170.8,609 C1170,540 1140,484 1091,484 Z" fill="#bdd4de" stroke="#d3e2e8" stroke-width="1.2"/>
<text x="1117" y="498.4" font-size="36" fill="#000" stroke="#000" stroke-width="0.8" textLength="236" lengthAdjust="spacingAndGlyphs" >Watching over</text>
<text x="1237.5" y="585.4" font-size="37" fill="#000" stroke="#000" stroke-width="0.8" textLength="272" lengthAdjust="spacingAndGlyphs" >Social Simulation</text>
<line x1="1238.5" y1="590" x2="1509.8" y2="590" stroke="#000" stroke-width="2.6" />
<text x="1240" y="631.7" font-size="37" fill="#000" stroke="#000" stroke-width="0.8" textLength="267" lengthAdjust="spacingAndGlyphs" >Human behavior</text>
<line x1="1240" y1="636.3" x2="1508" y2="636.3" stroke="#000" stroke-width="2.6" />
<path d="M1039.3,760.6 L1038.9,758.0 L1038.7,755.4 L1038.5,752.8 L1038.6,750.2 L1038.7,747.6 L1039.0,745.0 L1039.4,742.4 L1039.9,739.8 L1040.6,737.1 L1041.4,734.5 L1042.3,731.8 L1043.4,729.2 L1044.7,726.5 L1046.2,723.8 L1047.9,721.0 L1049.7,718.3 L1051.8,715.6 L1054.2,712.9 L1056.7,710.2 L1059.6,707.5 L1062.7,704.8 L1066.1,702.3 L1069.8,699.8 L1073.8,697.4 L1078.1,695.2 L1082.7,693.2 L1087.7,691.3 L1092.8,689.8 L1098.2,688.4 L1103.8,687.4 L1109.5,686.7 L1115.4,686.4 L1121.2,686.4 L1127.0,686.8 L1132.7,687.5 L1138.3,688.5 L1143.7,689.8 L1148.9,691.4 L1153.7,693.3 L1158.3,695.3 L1159.4,693.8 L1160.5,692.2 L1161.8,690.6 L1163.1,689.1 L1164.6,687.5 L1166.1,686.0 L1167.8,684.4 L1169.5,682.9 L1171.4,681.4 L1173.5,680.0 L1175.6,678.6 L1177.9,677.2 L1180.3,675.9 L1182.8,674.6 L1185.5,673.4 L1188.2,672.4 L1191.1,671.4 L1194.1,670.5 L1197.2,669.7 L1200.4,669.1 L1203.7,668.6 L1207.0,668.2 L1210.3,668.0 L1213.6,667.9 L1217.0,667.9 L1220.3,668.1 L1223.7,668.5 L1226.9,669.0 L1230.1,669.6 L1233.2,670.4 L1236.2,671.3 L1239.1,672.2 L1241.9,673.3 L1244.6,674.5 L1247.1,675.7 L1249.5,677.0 L1251.8,678.4 L1254.0,679.8 L1256.0,681.3 L1257.9,682.7 L1258.8,681.3 L1259.8,679.9 L1260.9,678.5 L1262.1,677.1 L1263.4,675.6 L1264.8,674.2 L1266.3,672.8 L1267.9,671.5 L1269.6,670.1 L1271.5,668.8 L1273.5,667.5 L1275.6,666.3 L1277.9,665.2 L1280.2,664.1 L1282.7,663.1 L1285.3,662.2 L1288.1,661.4 L1290.9,660.7 L1293.8,660.1 L1296.7,659.7 L1299.8,659.4 L1302.8,659.3 L1305.8,659.3 L1308.9,659.5 L1311.9,659.8 L1314.8,660.3 L1317.7,660.8 L1320.5,661.6 L1323.2,662.4 L1325.8,663.3 L1328.3,664.3 L1330.6,665.4 L1332.8,666.6 L1334.9,667.8 L1336.9,669.1 L1338.7,670.4 L1340.4,671.8 L1342.0,673.2 L1343.5,674.6 L1344.9,676.0 L1346.8,674.2 L1349.0,672.4 L1351.3,670.6 L1353.9,669.0 L1356.6,667.4 L1359.5,665.8 L1362.7,664.4 L1366.0,663.2 L1369.4,662.1 L1373.1,661.1 L1376.8,660.4 L1380.7,659.8 L1384.6,659.5 L1388.6,659.4 L1392.6,659.5 L1396.5,659.8 L1400.4,660.4 L1404.1,661.1 L1407.7,662.1 L1411.2,663.2 L1414.5,664.5 L1417.6,665.9 L1420.6,667.4 L1423.3,669.0 L1425.8,670.7 L1428.1,672.4 L1430.3,674.2 L1432.3,676.0 L1434.1,677.9 L1435.7,679.7 L1437.2,681.6 L1438.5,683.4 L1439.7,685.3 L1440.8,687.1 L1441.7,689.0 L1442.5,690.8 L1443.3,692.6 L1443.9,694.4 L1444.4,696.2 L1444.9,698.0 L1448.6,698.9 L1452.2,700.1 L1455.6,701.3 L1458.9,702.7 L1462.0,704.2 L1464.9,705.8 L1467.6,707.5 L1470.1,709.3 L1472.4,711.1 L1474.6,712.9 L1476.6,714.8 L1478.4,716.7 L1480.1,718.5 L1481.6,720.4 L1483.0,722.4 L1484.2,724.2 L1485.3,726.1 L1486.4,728.0 L1487.3,729.9 L1488.0,731.8 L1488.7,733.6 L1489.3,735.5 L1489.9,737.3 L1490.3,739.1 L1490.6,741.0 L1490.9,742.8 L1491.1,744.6 L1491.2,746.4 L1491.2,748.2 L1491.2,750.0 L1491.0,751.8 L1490.8,753.6 L1490.5,755.4 L1490.2,757.3 L1489.7,759.1 L1489.2,760.9 L1488.6,762.8 L1487.9,764.6 L1487.0,766.5 L1486.1,768.4 L1488.7,771.2 L1490.9,774.1 L1492.9,777.0 L1494.7,779.9 L1496.3,782.7 L1497.7,785.6 L1498.9,788.4 L1499.9,791.2 L1500.7,794.0 L1501.4,796.8 L1501.9,799.6 L1502.3,802.3 L1502.5,805.1 L1502.6,807.8 L1502.6,810.5 L1502.4,813.3 L1502.1,816.0 L1501.6,818.8 L1501.0,821.6 L1500.2,824.4 L1499.3,827.2 L1498.2,830.0 L1496.9,832.8 L1495.4,835.7 L1493.7,838.5 L1491.8,841.4 L1489.6,844.3 L1487.2,847.2 L1484.5,850.0 L1481.5,852.9 L1478.2,855.6 L1474.6,858.3 L1470.6,860.9 L1466.3,863.4 L1461.7,865.7 L1456.7,867.8 L1451.4,869.6 L1445.9,871.2 L1440.1,872.5 L1434.1,873.4 L1434.0,875.4 L1433.9,877.5 L1433.6,879.5 L1433.3,881.6 L1432.8,883.6 L1432.3,885.7 L1431.6,887.8 L1430.9,889.9 L1430.0,892.0 L1429.0,894.2 L1427.9,896.3 L1426.6,898.4 L1425.2,900.6 L1423.6,902.7 L1421.9,904.9 L1420.0,907.0 L1417.9,909.2 L1415.6,911.3 L1413.1,913.3 L1410.4,915.3 L1407.5,917.3 L1404.4,919.2 L1401.0,920.9 L1397.4,922.6 L1393.6,924.1 L1389.6,925.4 L1385.5,926.6 L1381.1,927.5 L1376.7,928.2 L1372.1,928.7 L1367.5,928.9 L1362.9,928.9 L1358.3,928.6 L1353.8,928.0 L1349.4,927.3 L1345.1,926.3 L1341.0,925.0 L1337.1,923.7 L1333.3,922.1 L1329.8,920.4 L1328.8,922.9 L1327.7,925.4 L1326.5,927.9 L1325.0,930.5 L1323.4,933.0 L1321.6,935.5 L1319.7,938.1 L1317.5,940.6 L1315.1,943.1 L1312.4,945.6 L1309.6,948.1 L1306.4,950.5 L1303.1,952.9 L1299.4,955.1 L1295.5,957.2 L1291.3,959.2 L1286.9,961.0 L1282.2,962.7 L1277.3,964.1 L1272.2,965.2 L1267.0,966.1 L1261.6,966.7 L1256.2,967.0 L1250.7,967.0 L1245.3,966.7 L1239.9,966.0 L1234.7,965.1 L1229.6,964.0 L1224.8,962.5 L1220.1,960.9 L1215.7,959.1 L1211.5,957.1 L1207.6,954.9 L1204.0,952.7 L1200.6,950.3 L1197.5,947.9 L1194.7,945.4 L1192.1,942.9 L1189.7,940.4 L1187.5,937.9 L1184.5,939.3 L1181.4,940.7 L1178.1,941.9 L1174.8,943.1 L1171.3,944.2 L1167.7,945.2 L1164.1,946.1 L1160.4,946.8 L1156.6,947.4 L1152.7,947.9 L1148.8,948.3 L1144.9,948.5 L1141.0,948.6 L1137.0,948.5 L1133.1,948.3 L1129.2,948.0 L1125.4,947.5 L1121.6,946.9 L1117.8,946.2 L1114.2,945.4 L1110.6,944.4 L1107.1,943.3 L1103.7,942.2 L1100.5,940.9 L1097.3,939.5 L1094.3,938.1 L1091.4,936.6 L1088.6,935.1 L1085.9,933.5 L1083.3,931.8 L1080.9,930.1 L1078.6,928.4 L1076.4,926.7 L1074.3,924.9 L1072.3,923.1 L1070.5,921.3 L1068.7,919.5 L1067.0,917.6 L1065.5,915.8 L1064.0,914.0 L1059.5,914.3 L1055.1,914.2 L1050.6,913.8 L1046.3,913.2 L1042.1,912.2 L1038.1,911.0 L1034.4,909.5 L1030.9,907.9 L1027.7,906.2 L1024.8,904.3 L1022.2,902.3 L1019.8,900.3 L1017.7,898.2 L1015.8,896.1 L1014.2,894.0 L1012.7,892.0 L1011.4,889.9 L1010.3,887.8 L1009.4,885.7 L1008.6,883.7 L1008.0,881.7 L1007.5,879.6 L1007.1,877.6 L1006.8,875.6 L1006.6,873.7 L1006.6,871.7 L1006.7,869.7 L1006.9,867.7 L1007.2,865.7 L1007.6,863.7 L1008.1,861.7 L1008.8,859.6 L1009.6,857.6 L1010.6,855.5 L1011.7,853.4 L1013.0,851.4 L1014.5,849.3 L1016.3,847.2 L1018.2,845.1 L1020.4,843.0 L1017.0,841.2 L1013.9,839.3 L1011.1,837.3 L1008.6,835.2 L1006.4,833.1 L1004.4,830.9 L1002.6,828.8 L1001.1,826.6 L999.8,824.4 L998.7,822.3 L997.7,820.2 L996.9,818.0 L996.3,815.9 L995.8,813.9 L995.4,811.8 L995.1,809.7 L995.0,807.7 L995.0,805.6 L995.1,803.5 L995.4,801.5 L995.7,799.4 L996.2,797.3 L996.9,795.2 L997.7,793.1 L998.6,791.0 L999.7,788.8 L1001.0,786.7 L1002.6,784.5 L1004.3,782.3 L1006.2,780.2 L1008.5,778.0 L1010.9,775.9 L1013.7,773.9 L1016.8,772.0 L1020.2,770.2 L1023.9,768.6 L1027.8,767.2 L1032.0,766.0 L1036.4,765.1 L1041.0,764.6 Z" fill="#ffffff" stroke="#00b050" stroke-width="4" stroke-linejoin="round"/>
<path d="M1048.6,844.7 Q1033,847.5 1019.7,842.5" fill="none" stroke="#00b050" stroke-width="4"/>
<path d="M1187.5,936.6 Q1183,932 1180,926.5" fill="none" stroke="#00b050" stroke-width="4"/>
<path d="M1395.5,821.7 Q1414.6,829 1425.6,841.5" fill="none" stroke="#00b050" stroke-width="4"/>
<path d="M1485.9,767.6 Q1478,778 1469.7,786.4" fill="none" stroke="#00b050" stroke-width="4"/>
<path d="M1444.9,696.9 Q1446,701 1446.5,706" fill="none" stroke="#00b050" stroke-width="4"/>
<path d="M1336,686.4 Q1340,678 1347,673" fill="none" stroke="#00b050" stroke-width="4"/>
<path d="M1158.3,695.3 Q1166,698 1172.5,703.5" fill="none" stroke="#00b050" stroke-width="4"/>
<path d="M1041.9,770.7 Q1039.5,765 1038,760" fill="none" stroke="#00b050" stroke-width="4"/>
<circle cx="1381" cy="656.7" r="10.5" fill="none" stroke="#6a6a6a" stroke-width="2.4"/>
<path d="M1381,667.5 L1381,707.6 M1364.4,687.2 L1397.8,687.2 M1361.7,725.2 L1381,707.6 L1402.4,726" fill="none" stroke="#7a84b0" stroke-width="3.8"/>
<line x1="1327.4" y1="704.8" x2="1356" y2="688" stroke="#0070c0" stroke-width="2.4" />
<line x1="1256" y1="803.7" x2="1381.8" y2="836.7" stroke="#000" stroke-width="2" />
<line x1="1180" y1="788" x2="1060.7" y2="885.5" stroke="#000" stroke-width="2" stroke-dasharray="8,5"/>
<ellipse cx="1253.5" cy="745.5" rx="103" ry="56.7" fill="#92d050" stroke="#000" stroke-width="3.6"/>
<ellipse cx="1377.9" cy="895" rx="106.3" ry="55.2" fill="#92d050" stroke="#000" stroke-width="3.6"/>
<text x="1196.5" y="734.4" font-size="35" fill="#000" stroke="#000" stroke-width="0.8" textLength="113" lengthAdjust="spacingAndGlyphs" >System</text>
<text x="1198" y="783.2" font-size="35" fill="#000" stroke="#000" stroke-width="0.8" textLength="110" lengthAdjust="spacingAndGlyphs" >ATS-A</text>
<text x="1320.5" y="884" font-size="35" fill="#000" stroke="#000" stroke-width="0.8" textLength="115.5" lengthAdjust="spacingAndGlyphs" >System</text>
<text x="1325.2" y="932.7" font-size="35" fill="#000" stroke="#000" stroke-width="0.8" textLength="107.5" lengthAdjust="spacingAndGlyphs" >ATS-B</text>
<text x="1038.5" y="718.7" font-size="36" fill="#000" stroke="#000" stroke-width="0.8" textLength="61" lengthAdjust="spacingAndGlyphs" >SoS</text>
<text x="975.5" y="825.7" font-size="36" fill="#000" stroke="#000" stroke-width="0.8" textLength="116" lengthAdjust="spacingAndGlyphs" >System</text>
<text x="975.5" y="865" font-size="36" fill="#000" stroke="#000" stroke-width="0.8" textLength="210" lengthAdjust="spacingAndGlyphs" >Cooperation</text>
<rect x="972.5" y="888.5" width="175" height="79" rx="13" ry="13" fill="#ffffff" stroke="#000" stroke-width="3"/>
<text x="990" y="940.6" font-size="37" fill="#000" stroke="#000" stroke-width="0.8" textLength="138" lengthAdjust="spacingAndGlyphs" >New CS</text>
<rect x="336.2" y="781.2" width="458.2" height="110.7" fill="#bdd5de"/>
<rect x="343.2" y="736" width="444" height="58.2" fill="#ffffff" stroke="#6c74a8" stroke-width="1.6"/>
<text x="359" y="778.6" font-size="36" fill="#000" stroke="#000" stroke-width="0.6" textLength="411.5" lengthAdjust="spacingAndGlyphs" >Engineering Technologies</text>
<text x="384" y="824.8" font-size="37" fill="#000" stroke="#000" stroke-width="0.8" textLength="362.5" lengthAdjust="spacingAndGlyphs" >Dynamic composition,</text>
<text x="351.5" y="873" font-size="37" fill="#000" stroke="#000" stroke-width="0.8" textLength="426" lengthAdjust="spacingAndGlyphs" >Dynamic API, and Dev-ops</text>
<text x="806" y="821.4" font-size="33" fill="#000" stroke="#000" stroke-width="0.8" textLength="130.5" lengthAdjust="spacingAndGlyphs" >support</text>
<line x1="805.4" y1="836.2" x2="944" y2="836.2" stroke="#6f7aa6" stroke-width="5" stroke-dasharray="24,18"/>
<path d="M937.5,825 L958.5,836.2 L937.5,847.5" fill="none" stroke="#6f7aa6" stroke-width="5.6" stroke-linecap="round" stroke-linejoin="round"/>
<text x="350" y="965.8" font-size="33" fill="#000" stroke="#000" stroke-width="0.8" textLength="67" lengthAdjust="spacingAndGlyphs" >ATS:</text>
<text x="419" y="965.8" font-size="33" fill="#000" stroke="#000" stroke-width="0.8" textLength="480" lengthAdjust="spacingAndGlyphs" >Advanced Transportation System</text>
</svg></body></html>
